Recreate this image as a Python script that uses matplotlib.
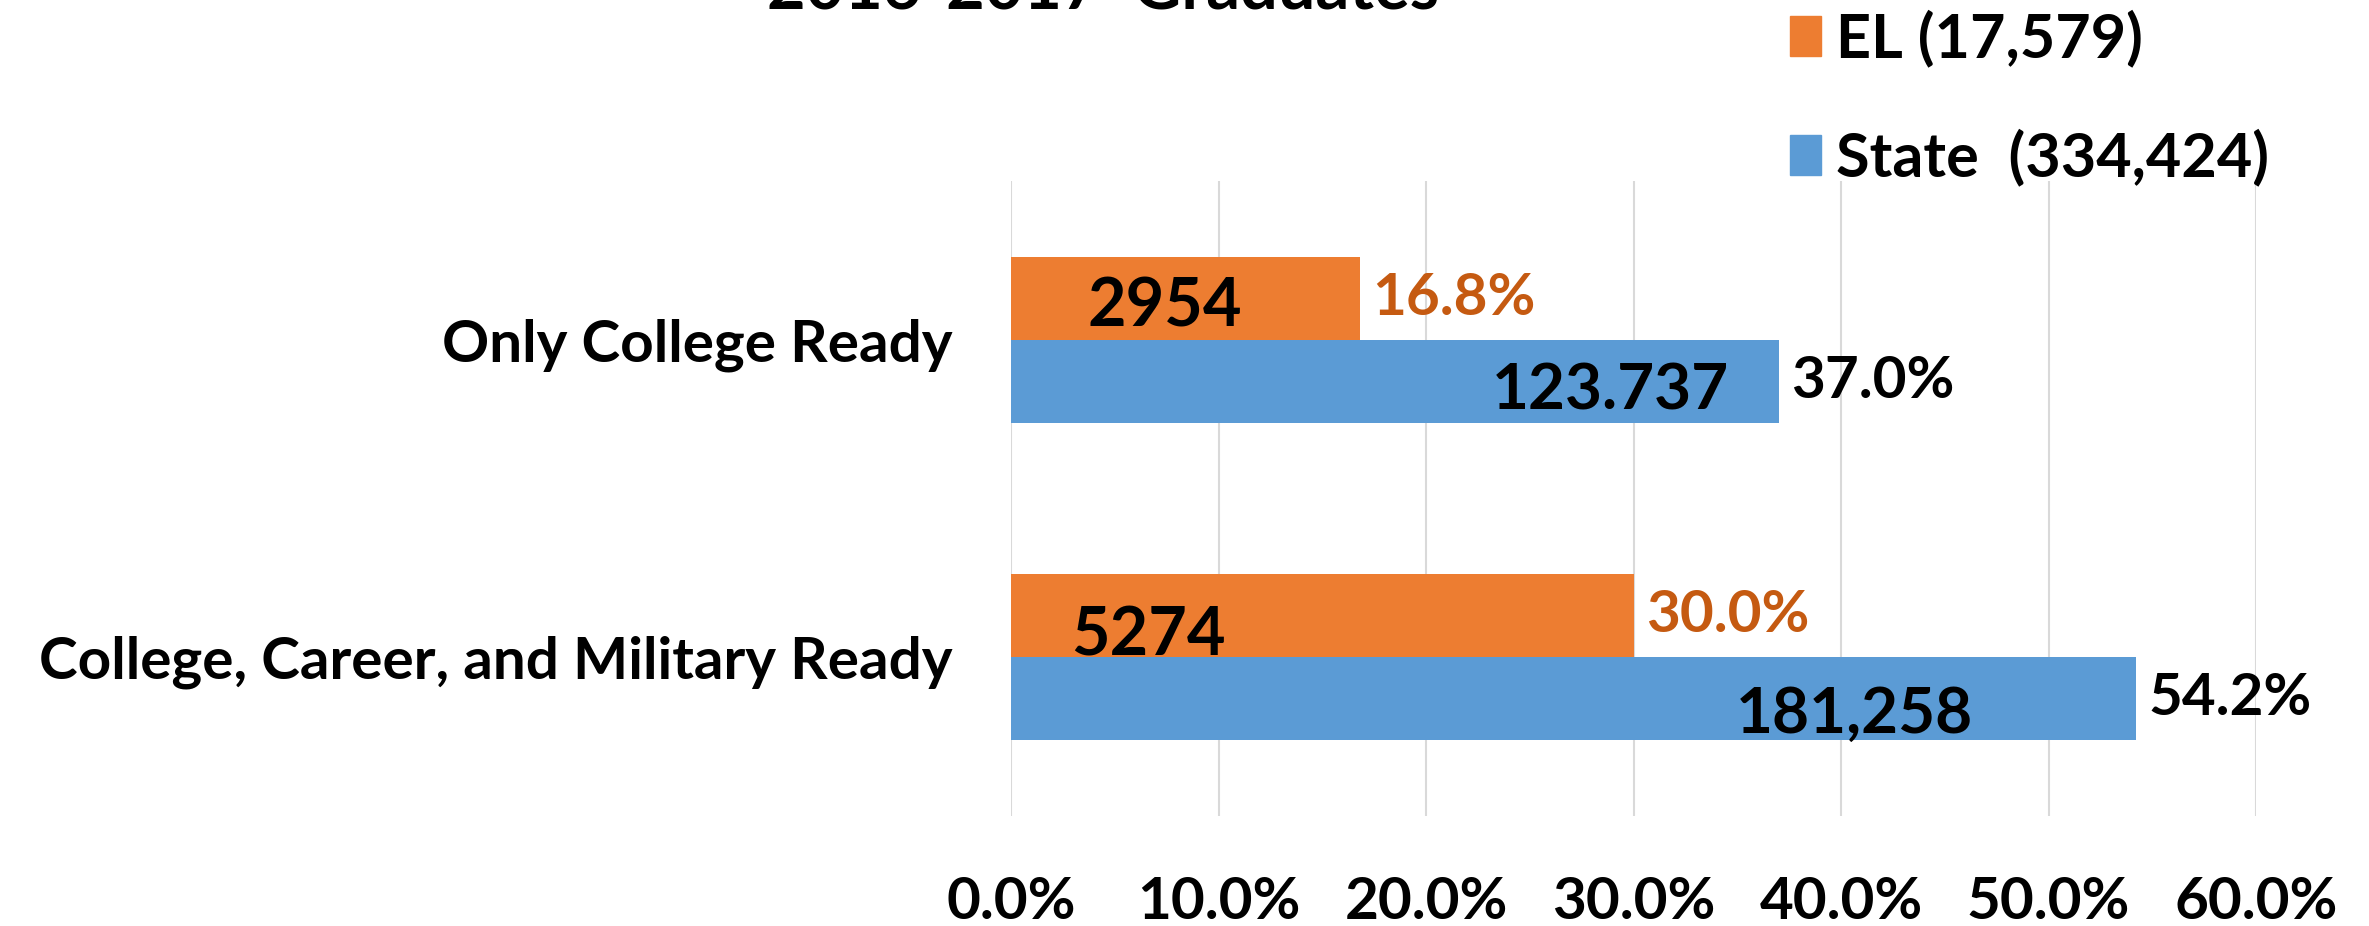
import matplotlib
matplotlib.use("Agg")
import matplotlib.pyplot as plt
from matplotlib.patches import Patch

plt.rcParams['font.family'] = ['Lato', 'DejaVu Sans']
plt.rcParams['font.weight'] = 'bold'

# data
categories = ["Only College Ready", "College, Career, and Military Ready"]
el_pct = [16.8, 30.0]
state_pct = [37.0, 54.2]
el_counts = ["2954", "5274"]
state_counts = ["123.737", "181,258"]
series_names = ["EL (17,579)", "State  (334,424)"]
xticks = [0, 10, 20, 30, 40, 50, 60]

EL_COLOR = "#ED7D31"
STATE_COLOR = "#5B9BD5"
EL_TEXT = "#C55A11"
GRID = "#D9D9D9"

# hand-placed count labels inside the bars (x as fraction of bar, y shift)
el_lab_pos = [(0.44, 0.03), (0.22, 0.065)]
st_lab_pos = [(0.78, 0.03), (0.75, 0.05)]

fig = plt.figure(figsize=(23.69, 9.26), dpi=100)
ax = fig.add_axes([0.4268, 0.1188, 0.5255, 0.6857])

h = 0.262
ypos = list(range(len(categories)))
el_y = [y - h / 2 for y in ypos]
st_y = [y + h / 2 for y in ypos]

ax.barh(el_y, el_pct, height=h, color=EL_COLOR, zorder=2)
ax.barh(st_y, state_pct, height=h, color=STATE_COLOR, zorder=2)

for i in range(len(categories)):
    ax.text(el_pct[i] + 0.6, el_y[i], f"{el_pct[i]:.1f}%", color=EL_TEXT,
            fontsize=42, fontweight='bold', va='center', ha='left')
    ax.text(state_pct[i] + 0.6, st_y[i], f"{state_pct[i]:.1f}%", color='black',
            fontsize=42, fontweight='bold', va='center', ha='left')
    fx, dy = el_lab_pos[i]
    ax.text(el_pct[i] * fx, el_y[i] + dy, el_counts[i], color='black',
            fontsize=48, fontweight='bold', va='center', ha='center')
    fx, dy = st_lab_pos[i]
    ax.text(state_pct[i] * fx, st_y[i] + dy, state_counts[i], color='black',
            fontsize=46, fontweight='bold', va='center', ha='center')

ax.set_xlim(0, 60)
ax.set_ylim(1.5, -0.5)
ax.set_xticks(xticks)
ax.set_xticklabels([f"{t:.1f}%" for t in xticks], fontsize=42, fontweight='bold')
ax.set_yticks(ypos)
ax.set_yticklabels(categories, fontsize=42, fontweight='bold')
ax.tick_params(axis='x', length=0, pad=43)
ax.tick_params(axis='y', length=0, pad=42)
ax.xaxis.grid(True, color=GRID, linewidth=1.5, zorder=0)
ax.set_axisbelow(True)
for s in ['top', 'right', 'bottom', 'left']:
    ax.spines[s].set_visible(False)

fig.text(0.4656, 0.991, "2016-2017  Graduates", fontsize=48, fontweight='bold',
         ha='center', va='baseline')

handles = [Patch(color=EL_COLOR), Patch(color=STATE_COLOR)]
fig.legend(handles, series_names, loc='upper left', bbox_to_anchor=(0.7556, 0.99),
           frameon=False, fontsize=44, handlelength=0.5, handleheight=0.64,
           handletextpad=0.25, labelspacing=1.0, borderaxespad=0, borderpad=0)

fig.savefig("out.png", dpi=100)
